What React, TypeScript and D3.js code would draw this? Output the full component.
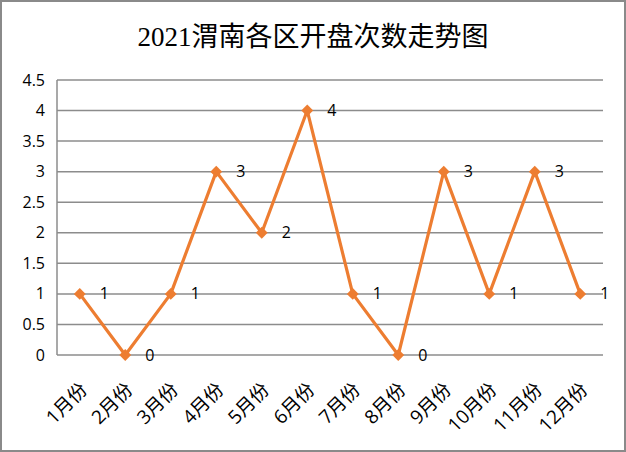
import React from "react";
import * as d3 from "d3";

const title = "2021渭南各区开盘次数走势图";
const months = ["1月份","2月份","3月份","4月份","5月份","6月份","7月份","8月份","9月份","10月份","11月份","12月份"];
const counts = [1,0,1,3,2,4,1,0,3,1,3,1];
const yTicks = [0,0.5,1,1.5,2,2.5,3,3.5,4,4.5];

const W = 626, H = 452;
const M = { left: 57, right: 603, top: 80, bottom: 355 };

export default function App() {
  const x = d3.scalePoint<string>().domain(months).range([M.left, M.right]).padding(0.5);
  const y = d3.scaleLinear().domain([0, 4.5]).range([M.bottom, M.top]);
  const line = d3.line<number>().x((_, i) => x(months[i])!).y(d => y(d));
  const diamond = d3.symbol().type(d3.symbolDiamond2).size(90)();
  return (
    <div style={{ position: "fixed", left: 0, top: 0 }}>
      <svg width={W} height={H} style={{ display: "block", background: "#fff" }}>
        <rect x={1} y={1} width={W - 2} height={H - 2} fill="#fff" stroke="#8a8a8a" strokeWidth={2} />
        <text x={313} y={46} textAnchor="middle" fontFamily="'Liberation Serif', 'Noto Sans CJK SC', serif" fontSize={27} fill="#000">{title}</text>
        {yTicks.map(t => (
          <g key={t}>
            <line x1={M.left} x2={M.right} y1={y(t)} y2={y(t)} stroke="#8c8c8c" strokeWidth={1.5} />
            <text x={45} y={y(t)} dy="0.35em" textAnchor="end" fontFamily="'Open Sans', 'Noto Sans', sans-serif" fontSize={16} fill="#000">{String(t)}</text>
          </g>
        ))}
        <line x1={M.left} x2={M.left} y1={M.top} y2={M.bottom} stroke="#8c8c8c" strokeWidth={1.5} />
        {months.map(m => (
          <text key={m} transform={`translate(${x(m)! + 4},${M.bottom + 31}) rotate(-45)`} textAnchor="end" dy="0.35em"
            fontFamily="'Open Sans', 'Noto Sans CJK SC', sans-serif" fontSize={19} fill="#000">{m}</text>
        ))}
        <path d={line(counts)!} fill="none" stroke="#ED7D31" strokeWidth={3.2} strokeLinejoin="round" />
        {counts.map((v, i) => (
          <g key={i}>
            <path d={diamond} transform={`translate(${x(months[i])},${y(v)})`} fill="#ED7D31" />
            <text x={x(months[i])! + 20} y={y(v)} dy="0.35em" fontFamily="'Open Sans', 'Noto Sans', sans-serif" fontSize={16} fill="#000">{v}</text>
          </g>
        ))}
      </svg>
    </div>
  );
}
